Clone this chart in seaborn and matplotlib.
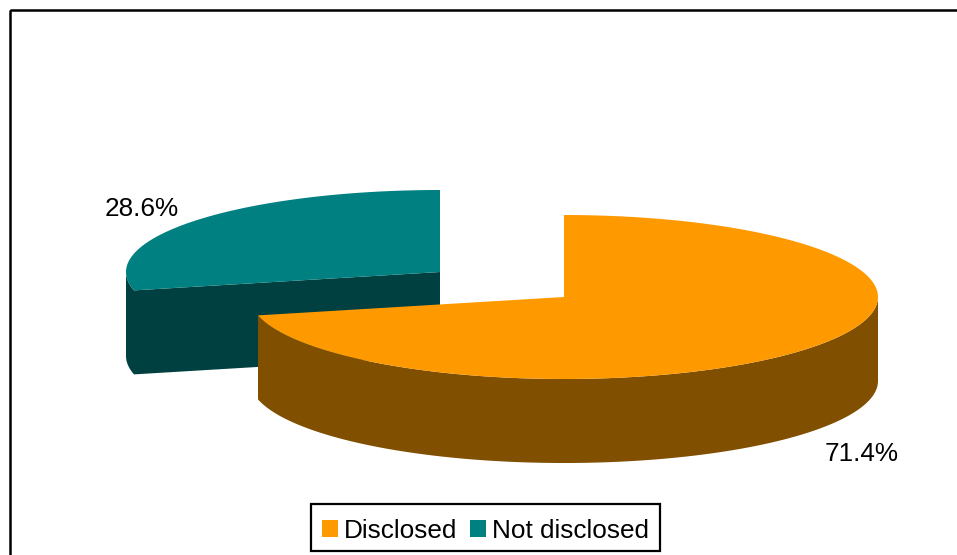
import numpy as np
import matplotlib
matplotlib.use("Agg")
import matplotlib.pyplot as plt
from matplotlib.patches import Patch, Rectangle
import seaborn as sns

categories = ["Disclosed", "Not disclosed"]
shares = [71.4, 28.6]
labels = ["71.4%", "28.6%"]
top_colors = ["#FF9900", "#008080"]
side_colors = ["#804F00", "#004040"]

sns.set_theme(style="white")
plt.rcParams["font.family"] = ["Liberation Sans", "DejaVu Sans"]
palette = sns.color_palette(top_colors)
side_palette = sns.color_palette(side_colors)

W, H = 957, 555
fig = plt.figure(figsize=(W / 100, H / 100), dpi=100, facecolor="white")
ax = fig.add_axes([0, 0, 1, 1])
ax.set_xlim(0, W)
ax.set_ylim(H, 0)
ax.axis("off")

RX, RY, DEPTH = 314, 82, 84
centers = [(564, 297), (440, 272)]


def arc(c, a0, a1):
    t = np.radians(np.linspace(a0, a1, 240))
    return c[0] + RX * np.sin(t), c[1] - RY * np.cos(t)


def draw_slice(c, a0, a1, top, side):
    # outer wall: part of the rim that faces the viewer
    w0, w1 = max(a0, 90), min(a1, 270)
    if w1 > w0:
        x, y = arc(c, w0, w1)
        ax.fill(np.r_[x, x[::-1]], np.r_[y, y[::-1] + DEPTH], color=side, lw=0, zorder=2)
    # cut face that turns towards the viewer
    if 180 < a0 < 360:
        x, y = arc(c, a0, a0)
        ax.fill([c[0], x[0], x[0], c[0]], [c[1], y[0], y[0] + DEPTH, c[1] + DEPTH],
                color=side, lw=0, zorder=2)
    x, y = arc(c, a0, a1)
    ax.fill(np.r_[c[0], x], np.r_[c[1], y], color=top, lw=0, zorder=2)


angles = np.r_[0, np.cumsum(shares) / np.sum(shares) * 360]
for i in [1, 0]:
    draw_slice(centers[i], angles[i], angles[i + 1], palette[i], side_palette[i])

ax.text(862, 454, labels[0], fontsize=18.8, color="black", ha="center", va="center", zorder=4)
ax.text(142, 209, labels[1], fontsize=18.8, color="black", ha="center", va="center", zorder=4)

ax.add_patch(Rectangle((10, 10), W + 20, H + 20, fill=False, ec="black", lw=1.8, clip_on=True, zorder=1))

# legend box drawn separately so the entries can sit slightly low inside it, as in the reference
ax.add_patch(Rectangle((311, 504), 349, 47, facecolor="white", edgecolor="black", lw=1.6, zorder=5))
handles = [Patch(facecolor=palette[i], edgecolor="none", label=categories[i]) for i in range(2)]
leg = ax.legend(handles=handles, loc="center", bbox_to_anchor=(485.5 / W, 1 - 530.5 / H),
                ncol=2, fontsize=18.8, frameon=False,
                labelcolor="black", handlelength=0.62, handleheight=0.62,
                handletextpad=0.23, columnspacing=0.5, borderpad=0.42, borderaxespad=0)
leg.set_zorder(6)

fig.savefig("out.png", dpi=100)
